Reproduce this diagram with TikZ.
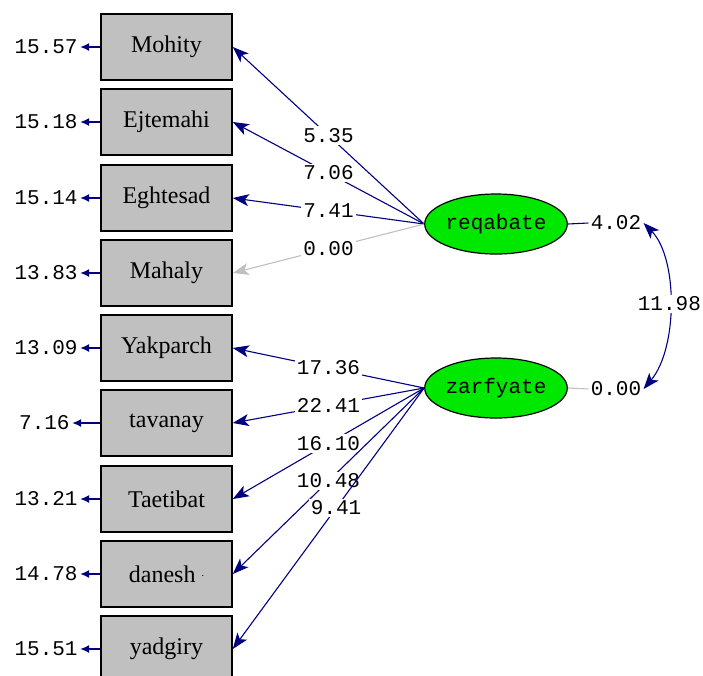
\documentclass[tikz,border=0pt]{standalone}
\usepackage{fontspec}
\setmainfont{Liberation Serif}
\setmonofont{Liberation Mono}
\usetikzlibrary{calc,shapes,arrows.meta}
\definecolor{pathblue}{RGB}{0,0,128}
\definecolor{boxgray}{RGB}{192,192,192}
\definecolor{latgreen}{RGB}{0,232,0}
\tikzset{
  obsbox/.style={draw=black,line width=.8pt,fill=boxgray,minimum width=65.5pt,minimum height=33pt,inner sep=0pt,font=\fontsize{12}{14}\selectfont},
  latent/.style={ellipse,draw=black,line width=.6pt,fill=latgreen,minimum width=66pt,minimum height=30pt,inner sep=0pt,font=\ttfamily\fontsize{10.5}{12}\selectfont},
  val/.style={fill=white,text=black,inner sep=1pt,font=\ttfamily\fontsize{10.5}{12}\selectfont},
  errval/.style={inner sep=1pt,anchor=east,font=\ttfamily\fontsize{10.5}{12}\selectfont},
  loadarr/.style={draw=pathblue,line width=.55pt,-{Stealth[length=8pt,width=6pt,inset=2pt]}},
  errarr/.style={draw=pathblue,line width=.9pt,-{Latex[length=4.5pt,width=4pt]}}
}

\begin{document}
\begin{tikzpicture}[x=0.5pt,y=-0.5pt]
    \useasboundingbox (0,0) rectangle (703,676);
    \begin{scope}[shift={(0,0)}]
      % observed variables
      \node[obsbox] (mohity)   at (166.5,47)  {Mohity};
      \node[obsbox] (ejtemahi) at (166.5,122) {Ejtemahi};
      \node[obsbox] (eghtesad) at (166.5,198) {Eghtesad};
      \node[obsbox] (mahaly)   at (166.5,273) {Mahaly};
      \node[obsbox] (yakparch) at (166.5,348) {Yakparch};
      \node[obsbox] (tavanay)  at (166.5,423) {tavanay};
      \node[obsbox] (taetibat) at (166.5,499) {Taetibat};
      \node[obsbox] (danesh)   at (166.5,574) {danesh\ \raisebox{.5ex}{\tiny.}};
      \node[obsbox] (yadgiry)  at (166.5,649) {yadgiry};
      % latent variables
      \node[latent] (reqabate) at (496,224) {reqabate};
      \node[latent] (zarfyate) at (496,388) {zarfyate};
      % error variances
      \node[errval] (emohity)   at (80,47)  {15.57};
      \node[errval] (eejtemahi) at (80,122) {15.18};
      \node[errval] (eeghtesad) at (80,198) {15.14};
      \node[errval] (emahaly)   at (80,273) {13.83};
      \node[errval] (eyakparch) at (80,348) {13.09};
      \node[errval] (etavanay)  at (72,423) {7.16};
      \node[errval] (etaetibat) at (80,499) {13.21};
      \node[errval] (edanesh)   at (80,574) {14.78};
      \node[errval] (eyadgiry)  at (80,649) {15.51};
      \draw[errarr](mohity.west)--(emohity.east);
      \draw[errarr](ejtemahi.west)--(eejtemahi.east);
      \draw[errarr](eghtesad.west)--(eeghtesad.east);
      \draw[errarr](mahaly.west)--(emahaly.east);
      \draw[errarr](yakparch.west)--(eyakparch.east);
      \draw[errarr](tavanay.west)--(etavanay.east);
      \draw[errarr](taetibat.west)--(etaetibat.east);
      \draw[errarr](danesh.west)--(edanesh.east);
      \draw[errarr](yadgiry.west)--(eyadgiry.east);
      % loadings
      \draw[loadarr](reqabate.west)--(mohity.east)node[val,pos=.5]{5.35};
      \draw[loadarr](reqabate.west)--(ejtemahi.east)node[val,pos=.5]{7.06};
      \draw[loadarr](reqabate.west)--(eghtesad.east)node[val,pos=.5]{7.41};
      \draw[loadarr,draw=boxgray](reqabate.west)--(mahaly.east)node[val,pos=.5]{0.00};
      \draw[loadarr](zarfyate.west)--(yakparch.east)node[val,pos=.5]{17.36};
      \draw[loadarr](zarfyate.west)--(tavanay.east)node[val,pos=.5]{22.41};
      \draw[loadarr](zarfyate.west)--(taetibat.east)node[val,pos=.5]{16.10};
      \draw[loadarr](zarfyate.west)--(danesh.east)node[val,pos=.5]{10.48};
      \draw[loadarr](zarfyate.west)--(yadgiry.east)node[val,pos=.46]{9.41};
      % latent variances and covariance
      \node[val] (vreqabate) at (616,223) {4.02};
      \node[val] (vzarfyate) at (616,389) {0.00};
      \draw[pathblue,line width=.55pt](reqabate.east)--(vreqabate.west);
      \draw[boxgray,line width=.55pt](zarfyate.east)--(vzarfyate.west);
      \draw[pathblue,line width=.55pt,{Stealth[length=8pt,width=6pt,inset=2pt]}-{Stealth[length=8pt,width=6pt,inset=2pt]}]
        (vreqabate.east) .. controls (678,258) and (678,348) .. (vzarfyate.east)
        node[val,pos=.5]{11.98};
    \end{scope}
  \end{tikzpicture}
\end{document}
